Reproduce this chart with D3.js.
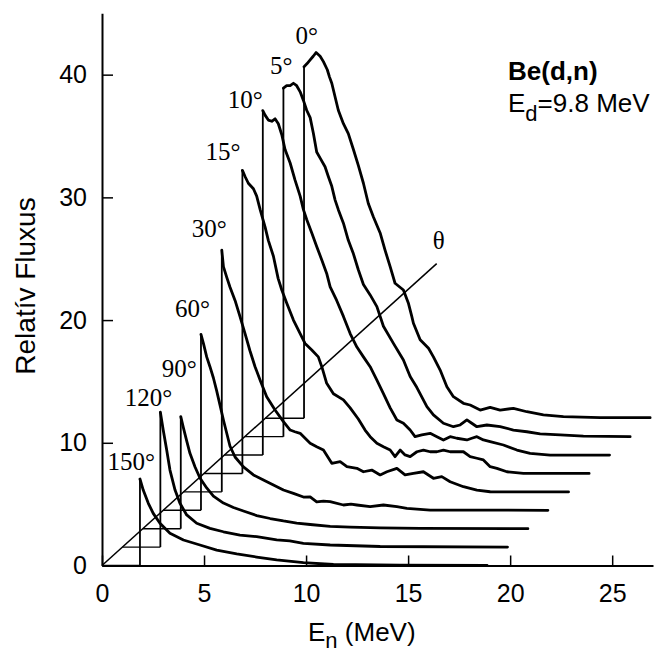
<!DOCTYPE html>
<html><head><meta charset="utf-8">
<script src="https://cdn.jsdelivr.net/npm/d3@7"></script>
<style>body{margin:0;background:#fff;} svg{display:block;}</style>
</head><body>
<svg id="chart" width="657" height="652"></svg>
<script>
// ---- data ----
const angleLabels = ["150°","120°","90°","60°","30°","15°","10°","5°","0°"];
const xTicks = [0,5,10,15,20,25];
const yTicks = [0,10,20,30,40];
const xDomain = [0,27];
const yDomain = [0,45];
const stepEnergy = 1.0;   // MeV shift per curve
const stepFlux = 1.5;     // flux shift per curve
const thetaAxisEnd = 16.4; // MeV, end of the θ diagonal

// [E_n (MeV), relative flux] for each angle
const spec150 = [[1.86,7.05],[2.02,6.15],[2.27,5.07],[2.51,4.25],[2.84,3.44],[3.33,2.62],[3.99,2.08],[4.8,1.67],[5.62,1.26],[6.6,0.94],[7.58,0.69],[8.56,0.45],[9.87,0.24],[11.34,0.08],[14.6,0.02],[18.87,0.0]];
const spec120 = [[1.86,10.99],[2.0,9.54],[2.17,7.91],[2.33,6.28],[2.58,4.65],[2.82,3.57],[3.15,2.62],[3.64,1.94],[4.29,1.53],[4.95,1.25],[5.76,0.98],[6.58,0.85],[7.56,0.58],[8.2,0.5],[8.87,0.31],[10.18,0.17],[12.63,0.05],[18.87,0]];
const spec90 = [[1.86,9.13],[1.99,8.21],[2.15,7.15],[2.31,6.14],[2.56,5.03],[2.8,4.13],[3.13,3.32],[3.46,2.66],[3.95,2.09],[4.44,1.73],[4.93,1.44],[5.58,1.07],[6.24,0.83],[6.89,0.63],[7.54,0.46],[8.2,0.34],[9.18,0.19],[10.16,0.12],[11.63,0.06],[13.59,0.02],[18.87,0]];
const spec60 = [[1.85,14.34],[1.97,13.6],[2.13,12.5],[2.29,11.7],[2.46,10.78],[2.62,9.73],[2.78,8.59],[2.95,7.36],[3.11,6.3],[3.27,5.24],[3.52,4.34],[3.93,3.53],[4.42,2.88],[4.91,2.47],[5.4,2.06],[5.89,1.65],[6.38,1.38],[6.87,1.08],[7.2,1.1],[7.52,0.68],[7.85,0.75],[8.18,0.7],[8.83,0.43],[9.2,0.5],[9.49,0.43],[10.14,0.29],[10.79,0.43],[11.45,0.29],[11.94,0.16],[13.08,0.02],[18.85,0]];
const spec30 = [[1.87,19.7],[1.95,18.35],[2.11,17.5],[2.27,16.7],[2.52,15.6],[2.76,14.3],[3.01,12.9],[3.25,11.5],[3.5,10.2],[3.75,9.1],[4.07,7.76],[4.48,6.67],[4.89,5.72],[5.22,5.04],[5.45,4.9],[5.71,4.77],[6.2,3.96],[6.52,3.68],[6.85,3.41],[7.26,2.33],[7.67,2.46],[8.0,2.05],[8.49,1.92],[8.81,1.64],[9.22,1.78],[9.63,1.38],[9.96,1.64],[10.45,1.92],[10.85,1.38],[11.26,1.51],[11.75,1.64],[12.24,1.11],[12.65,1.24],[13.06,0.83],[13.71,0.42],[14.37,0.15],[15.02,0.01],[18.86,0]];
const spec15 = [[1.88,24.7],[2.01,24.2],[2.17,23.65],[2.42,23.2],[2.58,22.6],[2.75,21.5],[2.99,20.1],[3.15,19.0],[3.4,17.7],[3.63,15.9],[3.81,14.95],[4.05,13.9],[4.38,12.5],[4.71,11.4],[4.95,10.6],[5.28,10.06],[5.6,9.5],[5.77,8.7],[6.01,7.35],[6.34,6.5],[6.83,6.0],[7.16,5.34],[7.56,4.44],[7.89,3.54],[8.14,3.0],[8.47,2.46],[8.79,2.18],[9.12,1.91],[9.36,1.37],[9.61,1.91],[9.85,1.51],[10.1,1.37],[10.43,1.77],[10.75,1.91],[11.08,1.77],[11.41,1.77],[11.73,1.91],[12.06,1.77],[12.39,1.77],[12.71,1.77],[13.04,1.37],[13.37,1.24],[13.69,1.1],[14.02,0.55],[14.35,0.42],[14.84,0.14],[15.65,0.01],[18.87,0]];
const spec10 = [[1.88,28.07],[1.99,27.7],[2.15,27.3],[2.32,27.2],[2.48,27.4],[2.64,27.0],[2.81,26.1],[2.97,24.9],[3.22,23.8],[3.46,22.4],[3.71,21.1],[3.87,20.0],[4.03,19.2],[4.28,18.1],[4.52,17.0],[4.77,15.9],[5.01,14.8],[5.18,13.7],[5.5,12.6],[5.83,11.3],[6.16,9.9],[6.49,8.8],[6.81,8.0],[7.14,7.2],[7.47,6.1],[7.79,5.0],[8.12,3.84],[8.45,2.86],[8.77,2.6],[9.1,2.04],[9.34,1.5],[9.67,1.64],[10.08,1.77],[10.41,1.5],[10.73,1.23],[11.06,1.5],[11.39,1.37],[11.88,1.23],[12.12,1.37],[12.37,1.5],[12.69,1.23],[13.02,1.09],[13.67,0.82],[14.33,0.41],[14.98,0.14],[15.96,0.0],[18.87,0]];
const spec5 = [[1.89,28.4],[2.05,28.6],[2.22,28.6],[2.38,28.8],[2.54,28.6],[2.71,28.1],[2.87,27.4],[3.03,26.6],[3.2,26.0],[3.36,24.7],[3.52,23.2],[3.69,22.7],[3.93,22.0],[4.09,21.2],[4.26,20.4],[4.42,19.3],[4.58,18.5],[4.83,17.4],[5.07,16.0],[5.32,14.9],[5.56,13.6],[5.81,12.4],[6.14,11.55],[6.47,10.6],[6.79,9.0],[7.28,7.6],[7.77,6.25],[8.1,4.9],[8.43,4.0],[8.92,2.44],[9.24,1.77],[9.73,1.09],[10.22,0.81],[10.55,0.95],[10.88,1.36],[11.12,1.09],[11.37,0.81],[11.86,0.95],[12.51,0.81],[13.16,0.54],[13.82,0.4],[14.47,0.22],[15.45,0.14],[16.59,0.05],[18.88,0]];
const spec0 = [[1.9,28.65],[2.05,28.9],[2.2,29.2],[2.35,29.5],[2.49,29.8],[2.69,29.5],[2.85,29.06],[3.04,28.4],[3.15,27.8],[3.26,27.3],[3.42,26.2],[3.58,25.1],[3.83,24.0],[4.07,23.2],[4.32,21.9],[4.56,20.6],[4.81,19.15],[5.05,17.5],[5.3,16.4],[5.63,15.1],[5.87,13.7],[6.12,12.35],[6.36,11.0],[6.77,10.45],[7.01,9.4],[7.18,8.3],[7.26,7.74],[7.59,6.4],[8.0,5.7],[8.24,5.0],[8.57,3.93],[8.9,2.57],[9.22,1.76],[9.71,1.22],[10.04,1.08],[10.53,0.67],[11.02,0.89],[11.51,0.67],[12.16,0.81],[12.82,0.53],[13.63,0.27],[14.61,0.13],[16.41,0.05],[18.86,0.05]];
const spectra = [spec150, spec120, spec90, spec60, spec30, spec15, spec10, spec5, spec0];

// label placement (pixel offsets from the top of each curve's start line)
const labelOffsets = [[15,-9],[12,-6],[16,-40],[9,-17],[5,-13],[-2,-10],[0,-3],[9,-14],[14,-23]];

// ---- drawing ----
const svg = d3.select("#chart");
const x = d3.scaleLinear().domain(xDomain).range([102, 653]);
const y = d3.scaleLinear().domain(yDomain).range([565.5, 13.3]);
const sans = "'Liberation Sans', Arial, sans-serif";
const serif = "'Liberation Serif', 'Times New Roman', serif";

// θ diagonal
svg.append("line")
  .attr("x1", x(0)).attr("y1", y(0))
  .attr("x2", x(thetaAxisEnd)).attr("y2", y(thetaAxisEnd * stepFlux / stepEnergy))
  .attr("stroke", "#000").attr("stroke-width", 1.5);
svg.append("text")
  .attr("x", x(thetaAxisEnd) + 2).attr("y", y(thetaAxisEnd * stepFlux / stepEnergy) - 15)
  .attr("text-anchor", "middle")
  .attr("font-family", serif).attr("font-size", 25)
  .text("θ");

// staircase (baseline + start line) for each curve
spectra.forEach((s, k) => {
  const dx = k * stepEnergy, dy = k * stepFlux;
  const e0 = s[0][0], f0 = s[0][1];
  const p = d3.path();
  p.moveTo(x(dx), y(dy));
  p.lineTo(x(e0 + dx), y(dy));
  svg.append("path").attr("d", p.toString())
    .attr("fill", "none").attr("stroke", "#000").attr("stroke-width", 1.4);
  svg.append("line")
    .attr("x1", x(e0 + dx)).attr("y1", y(dy))
    .attr("x2", x(e0 + dx)).attr("y2", y(f0 + dy))
    .attr("stroke", "#000").attr("stroke-width", 1.8);
});

// spectra
const line = d3.line();
spectra.forEach((s, k) => {
  const dx = k * stepEnergy, dy = k * stepFlux;
  svg.append("path")
    .attr("d", line(s.map(d => [x(d[0] + dx), y(d[1] + dy)])))
    .attr("fill", "none").attr("stroke", "#000")
    .attr("stroke-width", 2.8).attr("stroke-linejoin", "round").attr("stroke-linecap", "round");
  const off = labelOffsets[k];
  svg.append("text")
    .attr("x", x(s[0][0] + dx) + off[0]).attr("y", y(s[0][1] + dy) + off[1])
    .attr("text-anchor", "end")
    .attr("font-family", serif).attr("font-size", 25)
    .text(angleLabels[k]);
});

// axes
const xAxis = d3.axisBottom(x).tickValues(xTicks).tickSizeInner(-10).tickSizeOuter(0).tickPadding(19);
const yAxis = d3.axisLeft(y).tickValues(yTicks).tickSizeInner(-11).tickSizeOuter(0).tickPadding(15);
const gx = svg.append("g").attr("transform", `translate(0,${y(0)})`).call(xAxis);
const gy = svg.append("g").attr("transform", `translate(${x(0)},0)`).call(yAxis);
[gx, gy].forEach(g => {
  g.select(".domain").attr("stroke", "#000").attr("stroke-width", 2);
  g.selectAll(".tick line").attr("stroke", "#000").attr("stroke-width", 1.5);
  g.selectAll(".tick text").attr("font-family", sans).attr("font-size", 25).attr("fill", "#000");
});

// axis titles
svg.append("text")
  .attr("transform", `translate(35,286) rotate(-90)`)
  .attr("text-anchor", "middle")
  .attr("font-family", sans).attr("font-size", 28)
  .text("Relatív Fluxus");
const xt = svg.append("text")
  .attr("x", 308).attr("y", 641)
  .attr("font-family", sans).attr("font-size", 26);
xt.append("tspan").text("E");
xt.append("tspan").attr("font-size", 22).attr("dy", 7).text("n");
xt.append("tspan").attr("dy", -7).text(" (MeV)");

// reaction annotation
svg.append("text")
  .attr("x", 508).attr("y", 79.5)
  .attr("font-family", sans).attr("font-size", 26).attr("font-weight", "bold")
  .text("Be(d,n)");
const ed = svg.append("text")
  .attr("x", 508).attr("y", 111.7)
  .attr("font-family", sans).attr("font-size", 26);
ed.append("tspan").text("E");
ed.append("tspan").attr("font-size", 22).attr("dy", 9).text("d");
ed.append("tspan").attr("dy", -9).text("=9.8 MeV");
</script>
</body></html>
